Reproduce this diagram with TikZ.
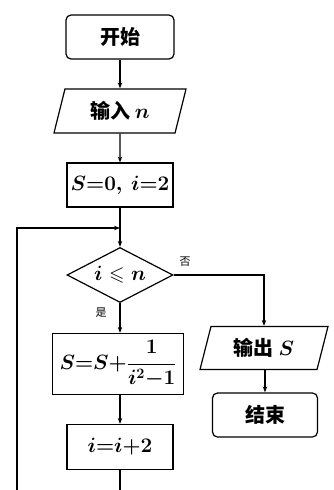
\documentclass[tikz,border=0pt]{standalone}
\usepackage{amsmath,amssymb}
\usepackage{fontspec}
\newfontfamily\cjk{Noto Sans CJK SC}
\usetikzlibrary{shapes.geometric, arrows.meta, positioning}
\tikzset{
  chartfont/.style={font=\cjk\bfseries\boldmath\fontsize{20}{22}\selectfont},
  termbox/.style={draw, chartfont, rounded corners=5pt, minimum width=108pt, minimum height=44pt},
  iobox/.style={draw, chartfont, trapezium, trapezium stretches body, trapezium left angle=67, trapezium right angle=113, minimum height=44pt},
  procbox/.style={draw, chartfont, minimum width=106pt, minimum height=44pt},
  decbox/.style={draw, chartfont, diamond, aspect=2, inner sep=0pt, minimum width=106pt, minimum height=55pt},
  lab/.style={font=\cjk\fontsize{11}{11}\selectfont, inner sep=1pt}
}
\begin{document}
\begin{tikzpicture}[x=1pt, y=-1pt, line width=1.2pt, >={Stealth[length=6pt,width=4.5pt]}]
  \useasboundingbox (0,0) rectangle (334,490);
  \clip (0,0) rectangle (334,490);

  % Main column
  \node[termbox] (start) at (120,37) {开始};
  \node[iobox, minimum width=132pt] (input) at (120,111) {输入\ $n$};
  \node[procbox] (init) at (120,185) {$S{=}0,\ i{=}2$};
  \coordinate (join) at (120,228);
  \node[decbox] (test) at (120,275) {$i\leqslant n$};
  \node[procbox, minimum width=131pt, minimum height=61pt] (acc) at (118,364) {$S{=}S{+}\dfrac{1}{i^2{-}1}$};
  \node[procbox, minimum height=45pt] (inc) at (120,447) {$i{=}i{+}2$};

  % Right column
  \node[iobox, minimum width=128pt, minimum height=43pt] (output) at (264,348) {输出\ $S$};
  \node[termbox, minimum width=105pt] (stop) at (265,415) {结束};

  % Branch labels
  \node[lab] (no) at (185,262) {否};
  \node[lab] (yes) at (101,313) {是};

  % Connectors
  \draw[->] (start) -- (input);
  \draw[->] (input) -- (init);
  \draw[->] (init) -- (test);
  \draw[->] (test) -- (test |- acc.north);
  \draw[->] (acc.south -| inc) -- (inc);
  \draw[->] (test.east) -| (output.north);
  \draw[->] (output.south -| stop) -- (stop);

  % Loop back
  \coordinate (corner) at (17,510);
  \draw[->] (inc.south) |- (corner) |- (join);
\end{tikzpicture}
\end{document}
